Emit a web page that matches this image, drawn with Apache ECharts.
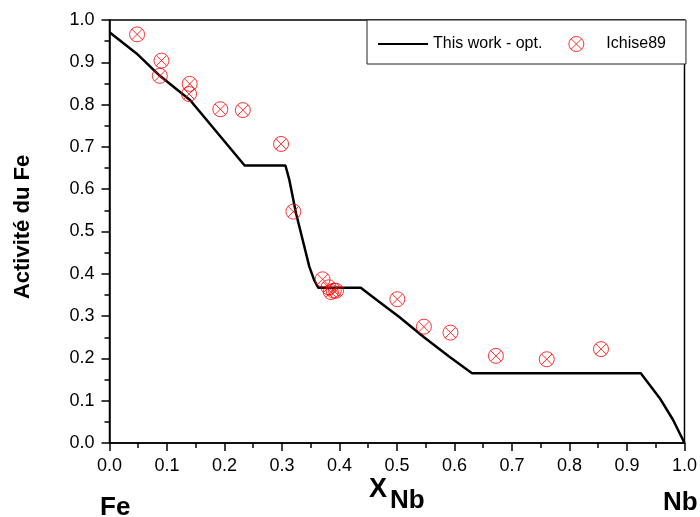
<!DOCTYPE html>
<html><head><meta charset="utf-8">
<script src="https://cdn.jsdelivr.net/npm/echarts@6/dist/echarts.min.js"></script>
<style>html,body{margin:0;padding:0;background:#fff}#c{width:700px;height:517px}</style>
</head><body><div id="c"></div>
<script>
var lineName = 'This work - opt.';
var scatterName = 'Ichise89';
var calcX = [0, 0.047, 0.0875, 0.14, 0.235, 0.306, 0.3128, 0.3244, 0.336, 0.3475, 0.356, 0.363, 0.437, 0.47, 0.5035, 0.547, 0.59, 0.6305, 0.924, 0.957, 0.98, 1.0];
var calcY = [0.971, 0.921, 0.868, 0.811, 0.656, 0.656, 0.622, 0.543, 0.48, 0.417, 0.385, 0.367, 0.367, 0.333, 0.2986, 0.25, 0.205, 0.165, 0.165, 0.106, 0.055, 0.0];
var expX = [0.048, 0.0904, 0.0875, 0.1395, 0.1383, 0.1927, 0.2319, 0.2984, 0.3198, 0.3706, 0.381, 0.385, 0.39, 0.394, 0.5006, 0.5468, 0.593, 0.672, 0.7605, 0.8548];
var expY = [0.966, 0.904, 0.868, 0.849, 0.825, 0.789, 0.787, 0.707, 0.547, 0.387, 0.368, 0.357, 0.36, 0.36, 0.34, 0.275, 0.261, 0.206, 0.198, 0.222];
var yTitle = 'Activité du Fe';

var FONT = '"Liberation Sans", Arial, sans-serif';
var lineData = calcX.map(function(x, i){ return [x, calcY[i]]; });
var scData = expX.map(function(x, i){ return [x, expY[i]]; });
var sym = 'path://M-10,0A10,10 0 1,0 10,0A10,10 0 1,0 -10,0Z M-7,-7L7,7 M7,-7L-7,7';

var chart = echarts.init(document.getElementById('c'), null, {renderer: 'canvas'});
chart.setOption({
  animation: false,
  backgroundColor: '#fff',
  grid: {left: 109.5, right: 13.5, top: 20, bottom: 74, show: true, borderColor: '#000', borderWidth: 1.5, backgroundColor: 'transparent'},
  legend: {
    left: 367, top: 20, orient: 'horizontal',
    padding: [16, 20, 12, 10],
    borderColor: '#222', borderWidth: 1, backgroundColor: '#fff',
    itemWidth: 50, itemHeight: 15, itemGap: 26,
    textStyle: {fontFamily: FONT, fontSize: 16, color: '#000'},
    data: [{name: lineName, itemStyle: {opacity: 0}}, {name: scatterName, itemStyle: {color: 'rgba(0,0,0,0)', borderColor: '#ff0000', borderWidth: 1}}]
  },
  xAxis: {
    type: 'value', min: 0, max: 1, interval: 0.1,
    axisLine: {onZero: false, lineStyle: {color: '#000', width: 1.5}},
    axisTick: {show: true, inside: false, length: 8, lineStyle: {color: '#000', width: 1.5}},
    minorTick: {show: true, splitNumber: 2, length: 5, lineStyle: {color: '#000', width: 1.5}},
    splitLine: {show: false},
    axisLabel: {fontFamily: FONT, fontSize: 18, color: '#000', margin: 14, formatter: function(v){ return v.toFixed(1); }}
  },
  yAxis: {
    type: 'value', min: 0, max: 1, interval: 0.1,
    axisLine: {onZero: false, lineStyle: {color: '#000', width: 1.5}},
    axisTick: {show: true, inside: false, length: 8, lineStyle: {color: '#000', width: 1.5}},
    minorTick: {show: true, splitNumber: 2, length: 5, lineStyle: {color: '#000', width: 1.5}},
    splitLine: {show: false},
    axisLabel: {fontFamily: FONT, fontSize: 18, color: '#000', margin: 15, formatter: function(v){ return v.toFixed(1); }}
  },
  series: [
    {name: lineName, type: 'line', data: lineData, showSymbol: false, symbol: 'none', smooth: false,
     lineStyle: {color: '#000', width: 2.5}, itemStyle: {color: '#000'}, z: 2},
    {name: scatterName, type: 'scatter', data: scData, symbol: sym, symbolSize: 15,
     itemStyle: {color: 'rgba(0,0,0,0)', borderColor: '#ff0000', borderWidth: 1}, z: 3}
  ],
  graphic: [
    {type: 'text', x: 23, y: 227, rotation: Math.PI/2, style: {text: yTitle, font: 'bold 22px ' + FONT, fill: '#000', textAlign: 'center', textVerticalAlign: 'middle'}},
    {type: 'text', x: 100, y: 507.5, style: {text: 'Fe', font: 'bold 26px ' + FONT, fill: '#000', textAlign: 'left', textVerticalAlign: 'middle'}},
    {type: 'text', x: 663, y: 502.5, style: {text: 'Nb', font: 'bold 26px ' + FONT, fill: '#000', textAlign: 'left', textVerticalAlign: 'middle'}},
    {type: 'text', x: 369, y: 490, style: {text: 'X', font: 'bold 27px ' + FONT, fill: '#000', textAlign: 'left', textVerticalAlign: 'middle'}},
    {type: 'text', x: 390, y: 501, style: {text: 'Nb', font: 'bold 26px ' + FONT, fill: '#000', textAlign: 'left', textVerticalAlign: 'middle'}}
  ]
});
</script>
</body></html>
